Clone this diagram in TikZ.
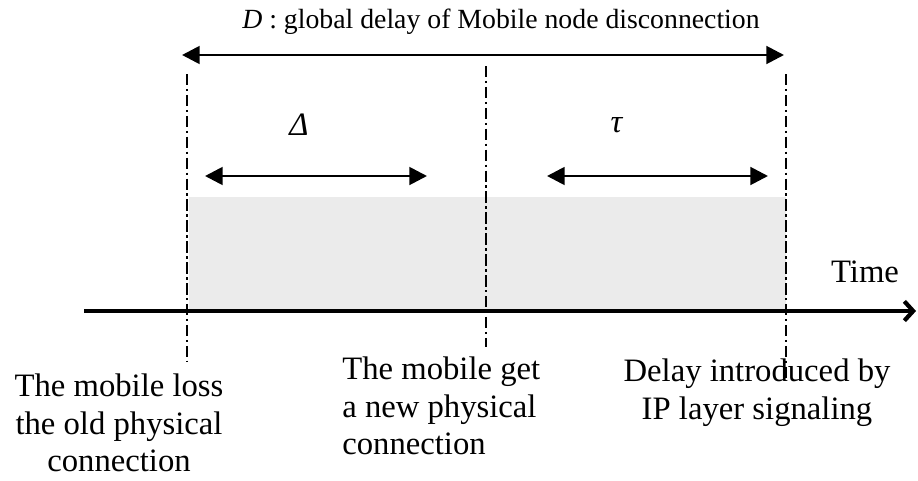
\documentclass[tikz,border=0pt]{standalone}
\usepackage{fontspec}
\setmainfont{Liberation Serif}
\usetikzlibrary{arrows.meta,positioning}
\definecolor{zonegray}{RGB}{235,235,235}

\begin{document}
\begin{tikzpicture}[x=0.02cm,y=-0.02cm,
  cut/.style={line width=1.5pt, dash pattern=on 6.5pt off 2pt on 1.4pt off 2pt},
  span/.style={line width=1.6pt, {Triangle[length=10pt,width=10pt]}-{Triangle[length=10pt,width=10pt]}},
  txt/.style={font=\fontsize{18.6}{21.5}\selectfont, inner sep=0pt}]
\useasboundingbox (0,0) rectangle (918,480);

% shaded disconnection zone
\fill[zonegray] (189,197) rectangle (786,311);

% time axis
\coordinate (t0) at (84,311);
\coordinate (t1) at (916,311);
\draw[line width=2.4pt, -{Straight Barb[length=5pt,width=11pt]}] (t0) -- (t1);
\node[txt] (time) at (865,272) {Time};

% event lines
\coordinate (losstop) at (187,74);
\coordinate (lossbot) at (187,362);
\coordinate (newtop) at (486,66);
\coordinate (newbot) at (486,347);
\coordinate (iptop) at (786,74);
\coordinate (ipbot) at (786,378);
\draw[cut] (losstop) -- (lossbot);
\draw[cut] (newtop) -- (newbot);
\draw[cut] (iptop) -- (ipbot);

% delays
\coordinate (d0) at (182,55);
\coordinate (d1) at (784,55);
\draw[span] (d0) -- (d1);
\node[txt, font=\fontsize{15.8}{18}\selectfont] (dlabel) at (501,22) {\textit{D} : global delay of Mobile node disconnection};

\coordinate (a0) at (205,176);
\coordinate (a1) at (427,176);
\draw[span] (a0) -- (a1);
\node[txt] (delta) at (299,125) {\textit{Δ}};

\coordinate (b0) at (547,176);
\coordinate (b1) at (768,176);
\draw[span] (b0) -- (b1);
\node[txt] (tau) at (617,125) {\textit{τ}};

% events
\node[txt, align=center] (losstext) at (119,423) {The mobile loss\\the old physical\\connection};
\node[txt, align=left, anchor=west] (newtext) at (342,406) {The mobile get\\a new physical\\connection};
\node[txt, align=center] (iptext) at (757,393) {Delay introduced by\\IP layer signaling};
\end{tikzpicture}
\end{document}
